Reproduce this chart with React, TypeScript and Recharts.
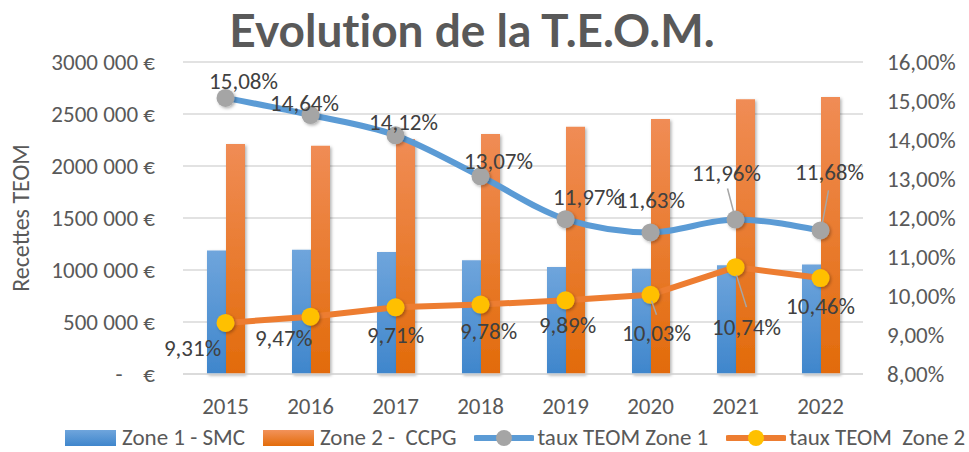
import React from "react"
import { ComposedChart, Bar, Line, XAxis, YAxis, CartesianGrid, Legend, LabelList } from "recharts"

const years = ["2015", "2016", "2017", "2018", "2019", "2020", "2021", "2022"]
const zone1Revenue = [1188000, 1195000, 1172000, 1093000, 1029000, 1013000, 1045000, 1054000]
const zone2Revenue = [2211000, 2195000, 2259000, 2307000, 2377000, 2451000, 2642000, 2664000]
const zone1Rate = [15.08, 14.64, 14.12, 13.07, 11.97, 11.63, 11.96, 11.68]
const zone2Rate = [9.31, 9.47, 9.71, 9.78, 9.89, 10.03, 10.74, 10.46]

const euroTicks = [0, 500000, 1000000, 1500000, 2000000, 2500000, 3000000]
const euroTickLabels = ["-\u00a0\u00a0\u00a0\u00a0€", "500 000 €", "1000 000 €", "1500 000 €", "2000 000 €", "2500 000 €", "3000 000 €"]
const rateTicks = [8, 9, 10, 11, 12, 13, 14, 15, 16]

const seriesNames = ["Zone 1 - SMC", "Zone 2 -\u00a0\u00a0CCPG", "taux TEOM Zone 1", "taux TEOM\u00a0\u00a0Zone 2"]

// label placement relative to each point (dx, dy) and optional leader line
const zone1LabelPos = [
  [18, -17], [-6, -12], [8, -13], [18, -15], [22, -22], [0, -32], [-9, -47], [9, -58],
]
const zone1Leaders: (number[] | null)[] = [null, null, null, null, null, null, [-8, -31, -2, -8], [8, -40, 2, -8]]
const zone2LabelPos = [
  [-33, 25], [-27, 21], [0, 28], [8, 26], [2, 25], [6, 38], [11, 60], [0, 28],
]
const zone2Leaders: (number[] | null)[] = [null, null, null, null, null, [1, 6, 6, 20], [1, 8, 11, 40], null]

const data = years.map((year, i) => ({
  year,
  zone1: zone1Revenue[i],
  zone2: zone2Revenue[i],
  rate1: zone1Rate[i],
  rate2: zone2Rate[i],
}))

const textColor = "#595959"
const font = "Carlito, Lato, 'Open Sans', sans-serif"

const fmtPct = (v: number) => v.toFixed(2).replace(".", ",") + "%"

const makeLabel = (pos: number[][], leaders: (number[] | null)[]) => (props: any) => {
  const { x, y, value, index } = props
  const [dx, dy] = pos[index]
  const leader = leaders[index]
  return (
    <g>
      {leader && (
        <line
          x1={x + leader[0]}
          y1={y + leader[1]}
          x2={x + leader[2]}
          y2={y + leader[3]}
          stroke="#A6A6A6"
          strokeWidth={1.5}
        />
      )}
      <text x={x + dx} y={y + dy} textAnchor="middle" dominantBaseline="central" fill="#404040" fontSize={23} fontFamily={font}>
        {fmtPct(value)}
      </text>
    </g>
  )
}

const YLabel = (props: any) => {
  const { viewBox } = props
  const cx = 20
  const cy = viewBox.y + viewBox.height / 2
  return (
    <text x={cx} y={cy} transform={`rotate(-90 ${cx} ${cy})`} textAnchor="middle" dominantBaseline="central" fill={textColor} fontSize={24} fontFamily={font}>
      Recettes TEOM
    </text>
  )
}

const LegendContent = () => {
  const item = { display: "flex", alignItems: "center", marginRight: 18 } as const
  const txt = { color: textColor, fontSize: 23, lineHeight: "23px", fontFamily: font, whiteSpace: "pre" } as const
  const lineIcon = (lineColor: string, dotColor: string) => (
    <svg width={60} height={20} style={{ marginRight: 3 }}>
      <line x1={2} y1={10} x2={58} y2={10} stroke={lineColor} strokeWidth={6} strokeLinecap="round" />
      <circle cx={30} cy={10} r={8} fill={dotColor} />
    </svg>
  )
  return (
    <div style={{ display: "flex", alignItems: "center", paddingLeft: 65, whiteSpace: "nowrap", height: 23 }}>
      <div style={item}>
        <div style={{ width: 51, height: 16, background: "linear-gradient(#6FA5DC, #3F86CC)", marginRight: 6 }} />
        <span style={txt}>{seriesNames[0]}</span>
      </div>
      <div style={item}>
        <div style={{ width: 51, height: 16, background: "linear-gradient(#F2925A, #E36C0A)", marginRight: 6 }} />
        <span style={txt}>{seriesNames[1]}</span>
      </div>
      <div style={item}>
        {lineIcon("#5B9BD5", "#A5A5A5")}
        <span style={txt}>{seriesNames[2]}</span>
      </div>
      <div style={item}>
        {lineIcon("#ED7D31", "#FFC000")}
        <span style={txt}>{seriesNames[3]}</span>
      </div>
    </div>
  )
}

export default function App() {
  return (
    <div style={{ position: "absolute", left: 0, top: 0, width: 969, height: 452, background: "#fff" }}>
      <div
        style={{
          position: "absolute",
          top: 2,
          left: 0,
          width: 944,
          textAlign: "center",
          fontFamily: "Lato, sans-serif",
          fontWeight: 700,
          fontSize: 46,
          fontVariantLigatures: "none",
          color: textColor,
          zIndex: 2,
        }}
      >
        Evolution de la T.E.O.M.
      </div>
      <ComposedChart width={969} height={452} data={data} margin={{ top: 62, right: 16, left: 0, bottom: 48 }} barGap={0} barCategoryGap={24}>
        <defs>
          <linearGradient id="gBlue" x1="0" y1="0" x2="0" y2="1">
            <stop offset="0%" stopColor="#6FA5DC" />
            <stop offset="100%" stopColor="#3F86CC" />
          </linearGradient>
          <linearGradient id="gOrange" x1="0" y1="0" x2="0" y2="1">
            <stop offset="0%" stopColor="#F08C55" />
            <stop offset="100%" stopColor="#E26B0A" />
          </linearGradient>
          <filter id="shadow" x="-30%" y="-30%" width="160%" height="160%">
            <feDropShadow dx="1.5" dy="1.5" stdDeviation="1.5" floodColor="#000" floodOpacity="0.3" />
          </filter>
        </defs>
        <CartesianGrid vertical={false} stroke="#D9D9D9" strokeWidth={1.5} yAxisId="left" />
        <XAxis
          dataKey="year"
          axisLine={{ stroke: "#D9D9D9", strokeWidth: 1.5 }}
          tickLine={false}
          height={30}
          tickMargin={18}
          tick={{ fill: textColor, fontSize: 23, fontFamily: font }}
        />
        <YAxis
          yAxisId="left"
          width={183}
          domain={[0, 3000000]}
          ticks={euroTicks}
          axisLine={false}
          tickLine={false}
          tickMargin={22}
          tickFormatter={(v: number) => euroTickLabels[euroTicks.indexOf(v)]}
          tick={{ fill: textColor, fontSize: 23, fontFamily: font }}
          label={<YLabel />}
        />
        <YAxis
          yAxisId="right"
          orientation="right"
          width={90}
          domain={[8, 16]}
          ticks={rateTicks}
          axisLine={false}
          tickLine={false}
          tickMargin={18}
          tickFormatter={(v: number) => fmtPct(v)}
          tick={{ fill: textColor, fontSize: 23, fontFamily: font, textAnchor: "start" }}
        />
        <Bar yAxisId="left" dataKey="zone1" name={seriesNames[0]} fill="url(#gBlue)" filter="url(#shadow)" isAnimationActive={false} />
        <Bar yAxisId="left" dataKey="zone2" name={seriesNames[1]} fill="url(#gOrange)" filter="url(#shadow)" isAnimationActive={false} />
        <Line
          yAxisId="right"
          type="monotone"
          dataKey="rate1"
          name={seriesNames[2]}
          stroke="#5B9BD5"
          strokeWidth={6}
          dot={{ r: 9, fill: "#A5A5A5", stroke: "#A5A5A5", strokeWidth: 0, filter: "url(#shadow)" }}
          isAnimationActive={false}
        >
          <LabelList dataKey="rate1" content={makeLabel(zone1LabelPos, zone1Leaders)} />
        </Line>
        <Line
          yAxisId="right"
          type="linear"
          dataKey="rate2"
          name={seriesNames[3]}
          stroke="#ED7D31"
          strokeWidth={6}
          dot={{ r: 9, fill: "#FFC000", stroke: "#FFC000", strokeWidth: 0, filter: "url(#shadow)" }}
          isAnimationActive={false}
        >
          <LabelList dataKey="rate2" content={makeLabel(zone2LabelPos, zone2Leaders)} />
        </Line>
        <Legend
          layout="horizontal"
          verticalAlign="middle"
          align="center"
          content={<LegendContent />}
          wrapperStyle={{ top: 426, left: 0, width: 969, height: 23 }}
        />
      </ComposedChart>
    </div>
  )
}
